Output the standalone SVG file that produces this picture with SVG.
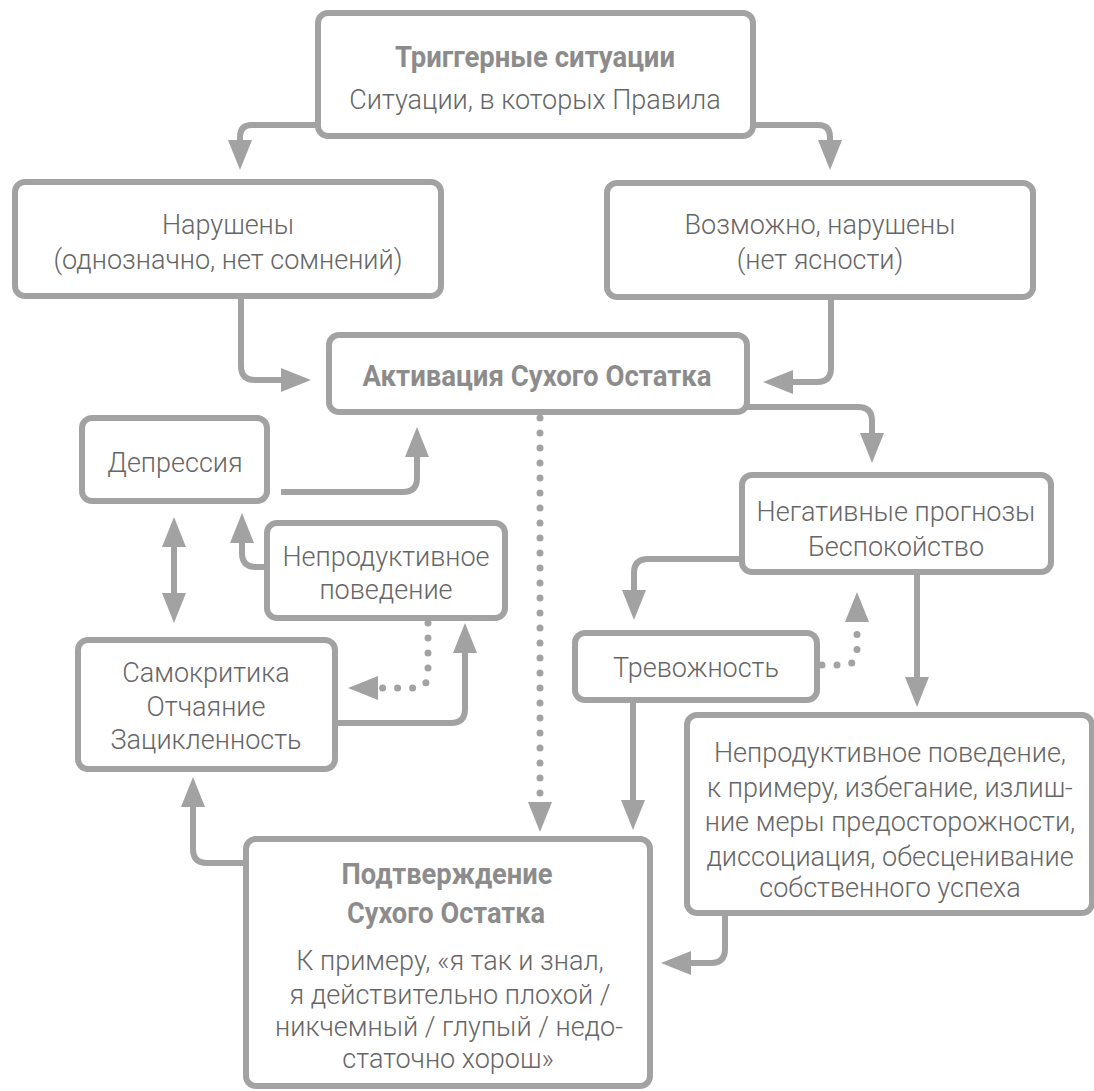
<svg xmlns="http://www.w3.org/2000/svg" width="1094" height="1091" viewBox="0 0 1094 1091">
<defs>
<marker id="ah" markerUnits="userSpaceOnUse" markerWidth="30" markerHeight="24" refX="0" refY="12" orient="auto-start-reverse" overflow="visible">
<path d="M0,0 L30,12 L0,24 z" fill="#a2a2a2"/>
</marker>
<style>
.box{fill:#fff;stroke:#a2a2a2;stroke-width:6}
.t{font-family:Roboto,"Liberation Sans",sans-serif;font-weight:300;font-size:27px;fill:#666;text-anchor:middle;dominant-baseline:central}
.b{font-family:Roboto,"Liberation Sans",sans-serif;font-weight:700;font-size:30px;fill:#8c8c8c;text-anchor:middle;dominant-baseline:central}
.c{fill:none;stroke:#a2a2a2;stroke-width:6;marker-end:url(#ah)}
.d{fill:none;stroke:#a2a2a2;stroke-width:7;stroke-linecap:round;stroke-dasharray:0 15;marker-end:url(#ah)}
</style>
</defs>
<rect width="1094" height="1091" fill="#fff"/>
<g id="connectors">
<path class="c" d="M318,125 H252 Q240,125 240,137 V140"/>
<path class="c" d="M752,125 H818 Q830,125 830,137 V140"/>
<path class="c" d="M241,299 V366 Q241,380 255,380 H281"/>
<path class="c" d="M831,300 V368 Q831,382 817,382 H793"/>
<path class="c" d="M747,407 H858 Q872,407 872,421 V433"/>
<path class="d" d="M540,418 V802"/>
<path class="c" d="M281,492 H403 Q417,492 417,478 V457"/>
<path class="c" d="M174,547 V593" marker-start="url(#ah)"/>
<path class="c" d="M267,567 H256 Q242,567 242,553 V543"/>
<path class="d" d="M428,623 V674 Q428,688 414,688 H378"/>
<path class="c" d="M335,723 H451 Q465,723 465,709 V653"/>
<path class="c" d="M245,863 H207 Q193,863 193,849 V807"/>
<path class="c" d="M742,559 H648 Q634,559 634,573 V590"/>
<path class="c" d="M917,572 V677"/>
<path class="d" d="M822,665 H843 Q857,665 857,651 V622"/>
<path class="c" d="M633,700 V800"/>
<path class="c" d="M725,913 V949 Q725,963 711,963 H691"/>
</g>
<g id="n-trigger">
<rect class="box" x="318" y="13" width="435" height="123" rx="10"/>
<text class="b" x="535" y="56" textLength="280" lengthAdjust="spacingAndGlyphs">Триггерные ситуации</text>
<text class="t" x="535" y="100">Ситуации, в которых Правила</text>
</g>
<g id="n-violated">
<rect class="box" x="15" y="182" width="426" height="114" rx="10"/>
<text class="t" x="228" y="225">Нарушены</text>
<text class="t" x="228" y="260">(однозначно, нет сомнений)</text>
</g>
<g id="n-maybe">
<rect class="box" x="607" y="183" width="426" height="114" rx="10"/>
<text class="t" x="820" y="225">Возможно, нарушены</text>
<text class="t" x="820" y="260">(нет ясности)</text>
</g>
<g id="n-activation">
<rect class="box" x="329" y="335" width="418" height="77" rx="10"/>
<text class="b" x="537" y="375" textLength="349" lengthAdjust="spacingAndGlyphs">Активация Сухого Остатка</text>
</g>
<g id="n-depression">
<rect class="box" x="82" y="418" width="185" height="83" rx="10"/>
<text class="t" x="175" y="463">Депрессия</text>
</g>
<g id="n-unproductive1">
<rect class="box" x="267" y="523" width="238" height="95" rx="10"/>
<text class="t" x="386" y="557">Непродуктивное</text>
<text class="t" x="386" y="590">поведение</text>
</g>
<g id="n-selfcrit">
<rect class="box" x="78" y="640" width="257" height="129" rx="10"/>
<text class="t" x="206" y="673">Самокритика</text>
<text class="t" x="206" y="707">Отчаяние</text>
<text class="t" x="206" y="740">Зацикленность</text>
</g>
<g id="n-negative">
<rect class="box" x="742" y="475" width="309" height="97" rx="10"/>
<text class="t" x="896" y="512">Негативные прогнозы</text>
<text class="t" x="896" y="547">Беспокойство</text>
</g>
<g id="n-anxiety">
<rect class="box" x="575" y="633" width="242" height="67" rx="10"/>
<text class="t" x="696" y="668">Тревожность</text>
</g>
<g id="n-unproductive2">
<rect class="box" x="687" y="715" width="405" height="198" rx="10"/>
<text class="t" x="890" y="753">Непродуктивное поведение,</text>
<text class="t" x="890" y="788">к примеру, избегание, излиш-</text>
<text class="t" x="890" y="822">ние меры предосторожности,</text>
<text class="t" x="890" y="857">диссоциация, обесценивание</text>
<text class="t" x="890" y="888">собственного успеха</text>
</g>
<g id="n-confirm">
<rect class="box" x="246" y="839" width="404" height="247" rx="10"/>
<text class="b" x="447" y="873" textLength="211" lengthAdjust="spacingAndGlyphs">Подтверждение</text>
<text class="b" x="446" y="912" textLength="198" lengthAdjust="spacingAndGlyphs">Сухого Остатка</text>
<text class="t" x="450" y="961">К примеру, «я так и знал,</text>
<text class="t" x="450" y="995">я действительно плохой /</text>
<text class="t" x="449" y="1027">никчемный / глупый / недо-</text>
<text class="t" x="448" y="1059">статочно хорош»</text>
</g>
</svg>
